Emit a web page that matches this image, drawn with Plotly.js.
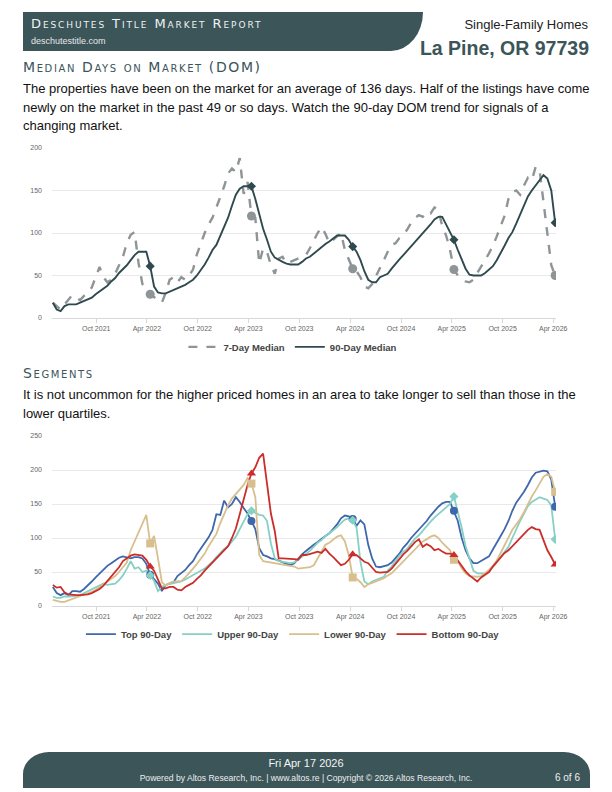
<!DOCTYPE html>
<html>
<head>
<meta charset="utf-8">
<script src="https://cdn.plot.ly/plotly-3.0.1.min.js"></script>
<style>
  html, body { margin:0; padding:0; background:#fff; }
  body { width:612px; height:792px; position:relative; overflow:hidden; font-family:"Liberation Sans", Arial, sans-serif; }
  .abs { position:absolute; }
  #band { left:23px; top:12px; width:400px; height:39px; background:#3b5559; border-bottom-right-radius:32px 39px; }
  #bandTitle { left:31px; top:16px; color:#f2f2f2; font-family:"DejaVu Sans", sans-serif; font-variant:small-caps; font-size:13px; letter-spacing:1.9px; white-space:nowrap; }
  #bandSite { left:31px; top:36px; color:#e8e8e8; font-size:9px; white-space:nowrap; }
  #kind { right:24px; top:17px; font-size:13px; color:#222; white-space:nowrap; }
  #place { right:23px; top:37px; font-size:19.5px; font-weight:bold; color:#3b5559; white-space:nowrap; }
  .sec { left:23px; color:#3b5559; font-family:"DejaVu Sans", sans-serif; font-variant:small-caps; font-size:14px; letter-spacing:1.6px; white-space:nowrap; }
  .para { left:23px; width:570px; font-size:13px; line-height:18.6px; color:#111; white-space:nowrap; }
  .chart { left:0; width:612px; height:220px; }
  #foot { left:23px; top:752px; width:567px; height:36px; background:#3b5559; border-top-left-radius:26px 22px; border-top-right-radius:26px 22px; }
  #footDate { left:0; width:612px; top:757px; text-align:center; color:#f4f4f4; font-size:11px; }
  #footCopy { left:0; width:612px; top:773px; text-align:center; color:#eee; font-size:8.6px; }
  #footPage { right:32px; top:772px; color:#eee; font-size:10px; }
</style>
</head>
<body>
<div id="band" class="abs"></div>
<div id="bandTitle" class="abs">Deschutes Title Market Report</div>
<div id="bandSite" class="abs">deschutestitle.com</div>
<div id="kind" class="abs">Single-Family Homes</div>
<div id="place" class="abs">La Pine, OR 97739</div>

<div class="abs sec" style="top:59px;">Median Days on Market (DOM)</div>
<div class="abs para" style="top:80px;">The properties have been on the market for an average of 136 days. Half of the listings have come<br>newly on the market in the past 49 or so days. Watch the 90-day DOM trend for signals of a<br>changing market.</div>
<div id="chart1" class="abs chart" style="top:140px;"></div>

<div class="abs sec" style="top:365px;">Segments</div>
<div class="abs para" style="top:386px;">It is not uncommon for the higher priced homes in an area to take longer to sell than those in the<br>lower quartiles.</div>
<div id="chart2" class="abs chart" style="top:428px;"></div>

<div id="foot" class="abs"></div>
<div id="footDate" class="abs">Fri Apr 17 2026</div>
<div id="footCopy" class="abs">Powered by Altos Research, Inc. | www.altos.re | Copyright © 2026 Altos Research, Inc.</div>
<div id="footPage" class="abs">6 of 6</div>

<script>
// ---------- DATA ----------
const startDate = "2021-04-28";   // first observation
const stepDays = 14;              // observation spacing
const tickDates = ["2021-10-01","2022-04-01","2022-10-01","2023-04-01","2023-10-01","2024-04-01","2024-10-01","2025-04-01","2025-10-01","2026-04-01"];
const tickLabels = ["Oct 2021","Apr 2022","Oct 2022","Apr 2023","Oct 2023","Apr 2024","Oct 2024","Apr 2025","Oct 2025","Apr 2026"];

const dom7 = [18,14,10,16,22,27,24,21,26,30, 36,48,60,48,42,45,52,62,72,88,
  98,101,65,40,33,28,25,21,18,30, 45,48,42,48,45,50,57,75,88,100,
  110,118,130,142,155,170,176,172,188,146, 160,120,118,64,82,78,62,52,70,72,
  64,66,68,70,72,74,82,92,100,107, 99,88,92,96,100,80,70,58,55,48,
  37,35,40,49,58,68,78,86,88,94, 98,104,112,118,121,119,125,123,130,128,
  108,97,80,57,50,46,43,42,45,53, 60,68,76,85,96,108,120,140,148,150,
  145,156,165,162,178,174,135,95,62,50];
const dom90 = [18,10,8,14,16,16,16,18,20,22, 24,28,31,35,38,43,47,53,57,62,
  68,74,78,78,78,61,37,30,29,29, 31,33,35,37,39,42,45,50,56,63,
  71,80,86,97,108,118,132,145,152,155, 155,155,140,122,105,92,78,71,68,66,
  64,63,63,63,66,70,72,76,80,84, 87,90,94,97,97,97,92,84,78,68,
  55,45,42,42,48,50,52,58,64,69, 74,79,84,89,94,99,104,110,116,119,
  119,110,102,92,80,68,58,51,50,50, 50,53,57,61,68,76,85,94,101,111,
  122,134,143,150,156,163,168,164,150,112];

const top90 = [28,19,16,19,16,22,22,21,25,30, 36,42,48,54,59,63,67,71,73,72,
  70,72,72,70,62,46,40,33,22,31, 33,35,44,49,53,60,66,76,84,93,
  101,112,135,134,155,145,150,160,153,144, 136,125,113,85,75,73,70,69,67,65,
  62,60,63,70,76,81,86,90,94,99, 103,107,113,120,129,133,132,128,118,126,
  120,90,70,58,57,58,60,64,71,77, 86,92,100,106,112,119,125,133,140,146,
  151,153,153,140,125,100,82,70,63,63, 66,70,73,83,92,103,113,125,140,152,
  160,168,178,189,196,198,199,198,186,146];
const upper90 = [14,12,12,14,14,14,15,16,19,22, 25,28,30,33,31,32,33,38,45,55,
  66,55,57,50,52,45,37,22,28,31, 32,33,34,36,39,42,45,48,51,55,
  60,65,72,78,84,88,95,102,113,124, 135,140,137,134,133,125,92,70,66,65,
  64,63,64,68,73,77,81,87,93,97, 103,107,111,116,122,127,129,126,115,65,
  36,32,36,38,41,43,52,58,66,74, 80,84,92,99,104,111,118,124,130,135,
  139,144,150,161,140,115,88,68,52,48, 48,48,50,58,65,72,80,87,100,113,
  125,136,147,153,156,160,158,156,148,98];
const lower90 = [9,7,6,6,8,11,13,14,16,18, 21,24,28,32,36,40,44,50,57,64,
  82,95,108,122,134,92,103,70,35,30, 34,36,36,37,42,48,55,62,70,77,
  88,98,106,122,135,148,158,165,172,178, 188,180,160,75,66,65,64,63,62,61,
  60,60,58,55,56,57,57,60,70,80, 90,93,98,102,104,95,75,42,40,35,
  28,32,34,36,38,41,45,48,54,60, 66,71,77,84,90,95,98,102,104,100,
  93,87,82,68,66,55,48,44,43,43, 44,48,53,59,67,78,90,100,112,120,
  128,138,150,161,170,180,190,194,190,168];
const bottom90 = [31,27,28,20,17,16,16,16,16,17, 19,22,25,30,37,43,50,57,66,70,
  74,76,75,74,68,58,52,40,26,26, 28,28,24,23,28,31,34,40,45,52,
  58,63,70,76,82,88,100,114,135,158, 178,195,204,218,224,180,136,110,70,70,
  70,70,69,68,75,75,76,78,80,78, 84,77,72,66,60,62,68,76,75,70,
  65,63,57,50,49,49,50,55,62,68, 76,81,88,94,98,87,91,88,82,84,
  80,77,77,75,67,59,51,45,40,36, 42,46,50,58,65,72,78,82,88,93,
  100,106,112,116,113,112,98,82,72,61];

// yearly comparison markers: same calendar week each year, counted back from the latest point
const markerEvery = 26;

// ---------- HELPERS ----------
function dateSeq(n) {
  const out = [];
  const d0 = new Date(startDate + "T00:00:00Z");
  for (let i = 0; i < n; i++) {
    const d = new Date(d0.getTime() + i * stepDays * 86400000);
    out.push(d.toISOString().slice(0, 10));
  }
  return out;
}
const dates = dateSeq(dom90.length);
function markerIdx(n) { const r = []; for (let i = n - 1; i >= 0; i -= markerEvery) r.unshift(i); return r; }
const mIdx = markerIdx(dates.length);
const pick = (arr) => mIdx.map(i => arr[i]);
const mDates = mIdx.map(i => dates[i]);

function padDate(s, days) { const d = new Date(s + "T00:00:00Z"); return new Date(d.getTime() + days * 86400000).toISOString().slice(0, 10); }
const xr = [padDate(dates[0], -3), padDate(dates[dates.length - 1], 3)];

const fontFam = '"Liberation Sans", Arial, sans-serif';
function baseLayout(ymax, dtick, legendX, legendY) {
  return {
    width: 612, height: 220,
    margin: { l: 52, r: 56, t: 8, b: 42, autoexpand: false },
    paper_bgcolor: "rgba(0,0,0,0)", plot_bgcolor: "rgba(0,0,0,0)",
    showlegend: true,
    legend: { orientation: "h", x: legendX, xanchor: "center", y: legendY, yanchor: "middle",
      font: { family: fontFam, size: 9.5, color: "#444", weight: "bold" }, itemwidth: 30, traceorder: "normal" },
    xaxis: { type: "date", range: xr, tickvals: tickDates, ticktext: tickLabels,
      showgrid: false, showline: true, linecolor: "#d8d8d8", linewidth: 1,
      ticks: "outside", ticklen: 4, tickcolor: "#d8d8d8",
      tickfont: { family: fontFam, size: 7, color: "#666" }, fixedrange: true, automargin: false },
    yaxis: { range: [0, ymax], dtick: dtick, showgrid: true, gridcolor: "#e9e9e9", gridwidth: 1,
      zeroline: false, showline: false, ticks: "", ticklabelstandoff: 9,
      tickfont: { family: fontFam, size: 7, color: "#666" }, fixedrange: true, automargin: false },
    hovermode: false
  };
}

// ---------- CHART 1 ----------
const c7 = "#8f9597", c90 = "#2f4a4f";
const traces1 = [
  { x: dates, y: dom7, type: "scatter", mode: "lines", name: "7-Day Median",
    line: { color: c7, width: 2.4, dash: "dash" } },
  { x: dates, y: dom90, type: "scatter", mode: "lines", name: "90-Day Median",
    line: { color: c90, width: 1.9 } },
  { x: mDates, y: pick(dom7), type: "scatter", mode: "markers", showlegend: false,
    marker: { symbol: "circle", size: 9, color: c7 } },
  { x: mDates, y: pick(dom90), type: "scatter", mode: "markers", showlegend: false,
    marker: { symbol: "diamond", size: 7, color: c90 } }
];
Plotly.newPlot("chart1", traces1, baseLayout(200, 50, 0.478, -0.17), { staticPlot: true, displayModeBar: false });

// ---------- CHART 2 ----------
const cTop = "#3f67ab", cUp = "#86d0c6", cLow = "#d8bf8e", cBot = "#cb2e2a";
const traces2 = [
  { x: dates, y: top90, type: "scatter", mode: "lines", name: "Top 90-Day", line: { color: cTop, width: 1.8 } },
  { x: dates, y: upper90, type: "scatter", mode: "lines", name: "Upper 90-Day", line: { color: cUp, width: 1.8 } },
  { x: dates, y: lower90, type: "scatter", mode: "lines", name: "Lower 90-Day", line: { color: cLow, width: 1.8 } },
  { x: dates, y: bottom90, type: "scatter", mode: "lines", name: "Bottom 90-Day", line: { color: cBot, width: 1.8 } },
  { x: mDates, y: pick(top90), type: "scatter", mode: "markers", showlegend: false, marker: { symbol: "circle", size: 8, color: cTop } },
  { x: mDates, y: pick(upper90), type: "scatter", mode: "markers", showlegend: false, marker: { symbol: "diamond", size: 7, color: cUp } },
  { x: mDates, y: pick(lower90), type: "scatter", mode: "markers", showlegend: false, marker: { symbol: "square", size: 8, color: cLow } },
  { x: mDates, y: pick(bottom90), type: "scatter", mode: "markers", showlegend: false, marker: { symbol: "triangle-up", size: 8, color: cBot } }
];
Plotly.newPlot("chart2", traces2, baseLayout(250, 50, 0.478, -0.165), { staticPlot: true, displayModeBar: false });
</script>
</body>
</html>
